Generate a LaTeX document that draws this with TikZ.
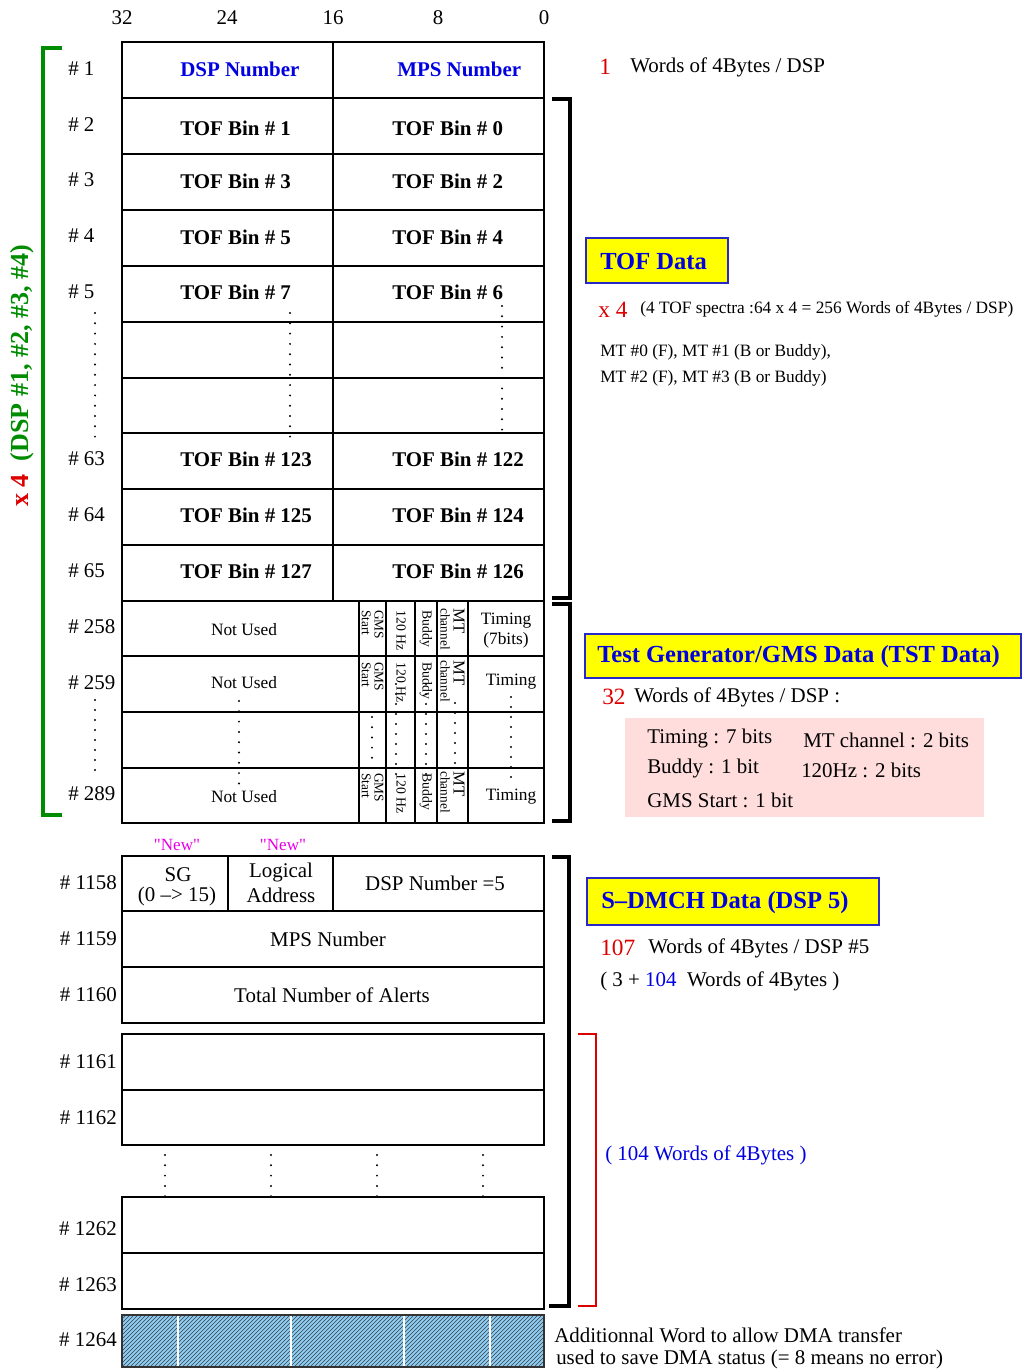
\documentclass[tikz,border=0pt]{standalone}
\usepackage{fontspec}
\setmainfont{Liberation Serif}
\newfontfamily\rawserif{Liberation Serif}
\usetikzlibrary{patterns}
\definecolor{dblue}{RGB}{0,0,225}
\definecolor{dred}{RGB}{220,0,0}
\definecolor{dgreen}{RGB}{0,140,0}
\definecolor{boxyellow}{RGB}{255,255,0}
\definecolor{boxblue}{RGB}{40,40,200}
\definecolor{pinkbg}{RGB}{255,221,221}
\definecolor{newmag}{RGB}{230,0,230}
\definecolor{hatchblue}{RGB}{140,205,245}
\newcommand\FMain{\fontsize{15.7}{18}\selectfont}
\newcommand\FSmall{\fontsize{13}{15}\selectfont}
\newcommand\FBox{\fontsize{18.4}{22}\selectfont\bfseries}
\newcommand\FNum{\fontsize{17.5}{20}\selectfont}
\newcommand\FRot{\fontsize{10.3}{10}\selectfont}
\newcommand\FTwo{\fontsize{10}{9.6}\selectfont}
\newcommand\dotcol[4]{\foreach \yy in {#2,#3,...,#4} {\fill (#1,\yy) circle (1.1);}}
\begin{document}
\begin{tikzpicture}[x=0.75pt,y=-0.75pt,
  tline/.style={line width=1pt},
  brk/.style={line width=3pt},
  txt/.style={inner sep=0pt,font=\FMain},
  wtxt/.style={txt,anchor=west},
  rowl/.style={txt,anchor=west},
  rowr/.style={txt,anchor=east},
  bin/.style={txt,anchor=west,font=\FMain\bfseries},
  nu/.style={inner sep=0pt,font=\FSmall},
  vtext/.style={inner sep=0pt,rotate=-90,anchor=west,align=left},
  titlebox/.style={draw=boxblue,line width=1.5pt,fill=boxyellow},
  titletxt/.style={inner sep=0pt,anchor=west,font=\FBox,text=dblue},
  rednum/.style={inner sep=0pt,anchor=west,font=\FNum,text=dred},
  newtxt/.style={inner sep=0pt,font=\rawserif\fontsize{12.8}{14}\selectfont,text=newmag}]
\useasboundingbox (0,0) rectangle (1022,1369);

% column bit numbers
\node[txt] (b32) at (122,18) {32};
\node[txt] (b24) at (227,18) {24};
\node[txt] (b16) at (333,18) {16};
\node[txt] (b8) at (438,18) {8};
\node[txt] (b0) at (544,18) {0};

% ---------- TOF table ----------
\draw[tline] (122,42) rectangle (544,601);
\foreach \yy in {98,154,210,266,322,378,433,489,545} {\draw[tline] (122,\yy) -- (544,\yy);}
\draw[tline] (333,42) -- (333,601);

\node[bin,text=dblue] (dspn) at (180,69) {DSP Number};
\node[bin,text=dblue] (mpsn) at (397,69) {MPS Number};
\node[bin] (t1) at (180,128) {TOF Bin \# 1};
\node[bin] (t0) at (392,128) {TOF Bin \# 0};
\node[bin] (t3) at (180,181) {TOF Bin \# 3};
\node[bin] (t2) at (392,181) {TOF Bin \# 2};
\node[bin] (t5) at (180,237) {TOF Bin \# 5};
\node[bin] (t4) at (392,237) {TOF Bin \# 4};
\node[bin] (t7) at (180,292) {TOF Bin \# 7};
\node[bin] (t6) at (392,292) {TOF Bin \# 6};
\node[bin] (t123) at (180,459) {TOF Bin \# 123};
\node[bin] (t122) at (392,459) {TOF Bin \# 122};
\node[bin] (t125) at (180,515) {TOF Bin \# 125};
\node[bin] (t124) at (392,515) {TOF Bin \# 124};
\node[bin] (t127) at (180,571) {TOF Bin \# 127};
\node[bin] (t126) at (392,571) {TOF Bin \# 126};

\node[rowl] (r1) at (68,69) {\# 1};
\node[rowl] (r2) at (68,125) {\# 2};
\node[rowl] (r3) at (68,180) {\# 3};
\node[rowl] (r4) at (68,236) {\# 4};
\node[rowl] (r5) at (68,292) {\# 5};
\node[rowl] (r63) at (68,459) {\# 63};
\node[rowl] (r64) at (68,515) {\# 64};
\node[rowl] (r65) at (68,571) {\# 65};

\dotcol{95}{313}{323.3}{437}
\dotcol{290}{313}{323.3}{437}
\dotcol{502}{306}{316.3}{431}

% ---------- TST table ----------
\draw[tline] (122,601) rectangle (544,823);
\foreach \yy in {656,712,768} {\draw[tline] (122,\yy) -- (544,\yy);}
\foreach \xx in {359,386,415,437,468} {\draw[tline] (\xx,601) -- (\xx,823);}

\node[nu] (nu1) at (244,630) {Not Used};
\node[nu] (nu2) at (244,683) {Not Used};
\node[nu] (nu3) at (244,797) {Not Used};
\node[nu,align=center] (tim1) at (506,631) {Timing\\(7bits)};
\node[nu] (tim2) at (511,682) {Timing};
\node[nu] (tim3) at (511,797) {Timing};

\foreach \yy/\nm in {610/a,662/b,773/c} {
  \node[vtext,font=\FTwo] (gms\nm) at (372.5,\yy) {GMS\\Start};
  \node[vtext,font=\FRot] (hz\nm) at (401,\yy) {120 Hz};
  \node[vtext,font=\FRot] (bud\nm) at (426,\yy) {Buddy};
  \node[vtext,font=\FTwo] (mt\nm) at (452.5,\yy-2) {\fontsize{12.5}{10}\selectfont MT\\channel};
}

\node[rowl] (r258) at (68,627) {\# 258};
\node[rowl] (r259) at (68,683) {\# 259};
\node[rowl] (r289) at (68,794) {\# 289};

\dotcol{95}{700}{710}{770}
\dotcol{239}{701}{711.3}{784}
\dotcol{372}{717}{727.2}{768}
\dotcol{396}{684}{694}{774}
\dotcol{426}{684}{694}{774}
\dotcol{455}{703}{713}{768}
\dotcol{511}{697}{707}{778}

% ---------- S-DMCH table ----------
\node[newtxt] (new1) at (177,845) {"New"};
\node[newtxt] (new2) at (283,845) {"New"};

\draw[tline] (122,856) rectangle (544,1023);
\draw[tline] (122,911) -- (544,911);
\draw[tline] (122,967) -- (544,967);
\draw[tline] (228,856) -- (228,911);
\draw[tline] (333,856) -- (333,911);

\node[txt] (sg) at (178,875) {SG};
\node[txt] (sgr) at (177,896) {(0 –> 15)};
\node[txt] (la1) at (281,872) {Logical};
\node[txt] (la2) at (281,895) {Address};
\node[txt] (dsp5) at (435,883) {DSP Number =5};
\node[txt] (mps) at (328,939) {MPS Number};
\node[txt] (tna) at (332,995) {Total Number of Alerts};

\draw[tline] (122,1034) rectangle (544,1145);
\draw[tline] (122,1090) -- (544,1090);
\draw[tline] (122,1197) rectangle (544,1309);
\draw[tline] (122,1253) -- (544,1253);

\foreach \xx in {165,271,377,483} {\dotcol{\xx}{1155}{1165.3}{1197}}

\fill[hatchblue] (122,1315) rectangle (544,1367);
\fill[pattern=north east lines,pattern color=black!75] (122,1315) rectangle (544,1367);
\foreach \xx in {178,291,404,490} {\draw[white,line width=0.8pt] (\xx,1315) -- (\xx,1367);}
\draw[line width=0.8pt,black!80] (122,1315) rectangle (544,1367);

\node[rowr] (r1158) at (117,883) {\# 1158};
\node[rowr] (r1159) at (117,939) {\# 1159};
\node[rowr] (r1160) at (117,995) {\# 1160};
\node[rowr] (r1161) at (117,1062) {\# 1161};
\node[rowr] (r1162) at (117,1118) {\# 1162};
\node[rowr] (r1262) at (117,1229) {\# 1262};
\node[rowr] (r1263) at (117,1285) {\# 1263};
\node[rowr] (r1264) at (117,1340) {\# 1264};

% ---------- brackets ----------
\draw[brk] (552,99) -- (570,99) -- (570,598) -- (552,598);
\draw[brk] (552,604) -- (570,604) -- (570,821) -- (552,821);
\draw[brk] (552,857) -- (569,857) -- (569,1306) -- (549,1306);
\draw[dred,line width=1.3pt] (578,1034) -- (596,1034) -- (596,1306) -- (578,1306);
\draw[dgreen,line width=2.5pt] (62,48) -- (43,48) -- (43,815) -- (62,815);

\node[inner sep=0pt,rotate=90,font=\fontsize{19.5}{22}\selectfont\bfseries] (dsplbl) at (22,376)
  {\textcolor{dred}{x 4}\ \ \textcolor{dgreen}{(DSP \#1, \#2, \#3, \#4)}};

% ---------- right side texts ----------
\node[rednum] (n1) at (599,67) {1};
\node[wtxt] (w1) at (630,67) {Words of 4Bytes / DSP};

\draw[titlebox] (586,238) rectangle (728,283);
\node[titletxt] (toft) at (600,261) {TOF Data};
\node[rednum] (x4) at (598,310) {x 4};
\node[inner sep=0pt,anchor=west,font=\FSmall] (spec) at (640,309) {(4 TOF spectra :64 x 4 = 256 Words of 4Bytes / DSP)};
\node[inner sep=0pt,anchor=west,font=\FSmall] (mt01) at (600,352) {MT \#0 (F), MT \#1 (B or Buddy),};
\node[inner sep=0pt,anchor=west,font=\FSmall] (mt23) at (600,378) {MT \#2 (F), MT \#3 (B or Buddy)};

\draw[titlebox] (585,634) rectangle (1021,678);
\node[titletxt] (tstt) at (597,657) {Test Generator/GMS Data (TST Data)};
\node[rednum] (n32) at (602,697) {32};
\node[wtxt] (w32) at (634,697) {Words of 4Bytes / DSP :};

\fill[pinkbg] (625,718) rectangle (984,817);
\node[wtxt] (p1) at (647,738) {Timing : 7 bits};
\node[wtxt] (p2) at (803,740) {MT channel : 2 bits};
\node[wtxt] (p3) at (647,768) {Buddy : 1 bit};
\node[wtxt] (p4) at (801,770) {120Hz : 2 bits};
\node[wtxt] (p5) at (647,800) {GMS Start : 1 bit};

\draw[titlebox] (587,878) rectangle (879,925);
\node[titletxt] (sdt) at (601,903) {S–DMCH Data (DSP 5)};
\node[rednum] (n107) at (600,948) {107};
\node[wtxt] (w107) at (648,948) {Words of 4Bytes / DSP \#5};
\node[wtxt] (w3) at (600,981) {( 3 + \textcolor{dblue}{104}\ \ Words of 4Bytes )};
\node[wtxt,text=dblue] (w104) at (605,1155) {( 104 Words of 4Bytes )};

\node[wtxt] (dma1) at (554,1335) {Additionnal Word to allow DMA transfer};
\node[wtxt] (dma2) at (556,1359) {used to save DMA status (= 8 means no error)};
\end{tikzpicture}
\end{document}
